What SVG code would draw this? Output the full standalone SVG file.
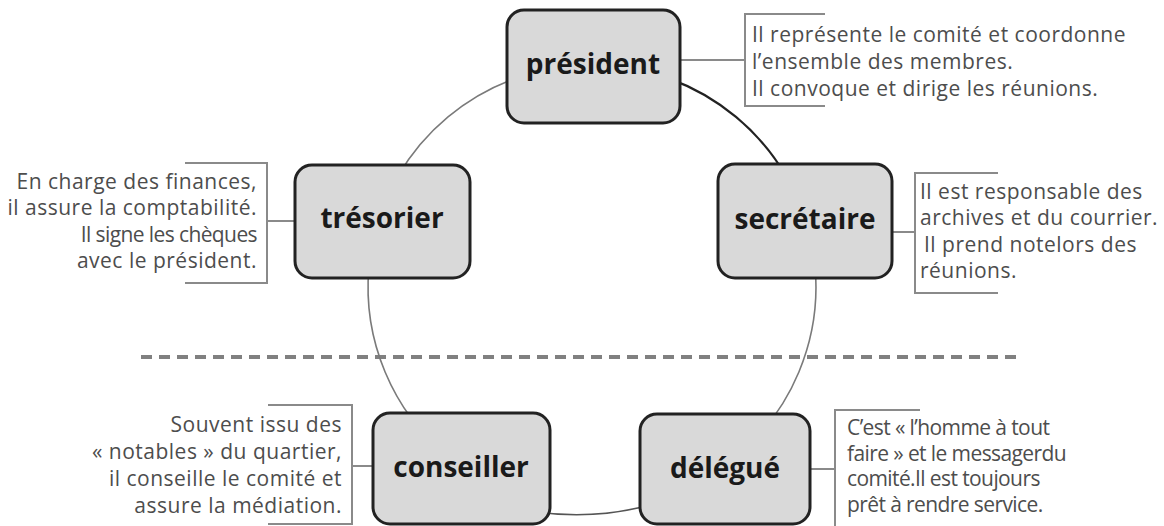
<svg xmlns="http://www.w3.org/2000/svg" width="1164" height="526" viewBox="0 0 1164 526">
<style>
.box{fill:#d9d9d9;stroke:#222;stroke-width:3}
.title{font-family:"Open Sans","Liberation Sans",sans-serif;font-weight:bold;font-size:28px;fill:#1a1a1a;text-anchor:middle}
.note{font-family:"Open Sans","Liberation Sans",sans-serif;font-size:21px;letter-spacing:0.5px;fill:#4d4d4d}
.tight{letter-spacing:-0.6px}
.r{text-anchor:end}
.br{fill:none;stroke:#8a8a8a;stroke-width:2}
.arc{fill:none;stroke:#7a7a7a;stroke-width:1.6}
.arcd{fill:none;stroke:#222;stroke-width:2.2}
.lead{stroke:#8a8a8a;stroke-width:2}
</style>
<rect width="1164" height="526" fill="#fff"/>
<line id="separator" x1="141" y1="357" x2="1020" y2="357" stroke="#808080" stroke-width="4" stroke-dasharray="11 7"/>
<g id="connectors">
<path class="arcd" d="M668.6 78.4 A224 222 0 0 1 786 176"/>
<path class="arc" d="M815.1 267.7 A224 222 0 0 1 736 457"/>
<path class="arc" style="stroke:#555" d="M650 505 Q595 520 536 512"/>
<path class="arc" d="M448 457 A224 222 0 0 1 368.9 267.7"/>
<path class="arc" d="M398 176 A224 222 0 0 1 515.4 78.4"/>
<line class="lead" x1="680" y1="60" x2="745" y2="60"/>
<line class="lead" x1="267" y1="221" x2="295" y2="221"/>
<line class="lead" x1="892" y1="232" x2="915" y2="232"/>
<line class="lead" x1="352" y1="466" x2="373" y2="466"/>
<line class="lead" x1="810" y1="469" x2="835" y2="469"/>
</g>
<g id="president">
<rect class="box" x="507" y="10" width="173" height="113" rx="17"/>
<text class="title" x="593" y="74">président</text>
<path class="br" d="M825 14 H745 V106 H825"/>
<text class="note"><tspan x="752" y="42">Il représente le comité et coordonne</tspan><tspan x="752" y="69">l’ensemble des membres.</tspan><tspan x="752" y="96">Il convoque et dirige les réunions.</tspan></text>
</g>
<g id="tresorier">
<rect class="box" x="295" y="165" width="175" height="113" rx="17"/>
<text class="title" x="382" y="228">trésorier</text>
<path class="br" d="M185 163 H267 V283 H185"/>
<text class="note r"><tspan x="257" y="189">En charge des finances,</tspan><tspan x="257" y="215">il assure la comptabilité.</tspan></text>
<text class="note r tight" x="257" y="242">Il signe les chèques</text>
<text class="note r" x="257" y="268">avec le président.</text>
</g>
<g id="secretaire">
<rect class="box" x="718" y="164" width="174" height="114" rx="17"/>
<text class="title" x="805" y="229">secrétaire</text>
<path class="br" d="M998 173 H915 V293 H998"/>
<text class="note"><tspan x="920" y="199">Il est responsable des</tspan><tspan x="920" y="225">archives et du courrier.</tspan><tspan x="924" y="252">Il prend notelors des</tspan><tspan x="920" y="278">réunions.</tspan></text>
</g>
<g id="conseiller">
<rect class="box" x="373" y="413" width="177" height="111" rx="17"/>
<text class="title" x="461" y="477">conseiller</text>
<path class="br" d="M268 405 H352 V524 H268"/>
<text class="note r"><tspan x="342" y="432">Souvent issu des</tspan><tspan x="342" y="459">« notables » du quartier,</tspan><tspan x="342" y="486">il conseille le comité et</tspan><tspan x="342" y="513">assure la médiation.</tspan></text>
</g>
<g id="delegue">
<rect class="box" x="640" y="414" width="170" height="110" rx="17"/>
<text class="title" x="725" y="478">délégué</text>
<path class="br" d="M920 410 H835 V530"/>
<text class="note tight"><tspan x="847" y="435">C’est « l’homme à tout</tspan><tspan x="847" y="460.5">faire » et le messagerdu</tspan><tspan x="847" y="486">comité.Il est toujours</tspan><tspan x="847" y="511.5">prêt à rendre service.</tspan></text>
</g>
</svg>
